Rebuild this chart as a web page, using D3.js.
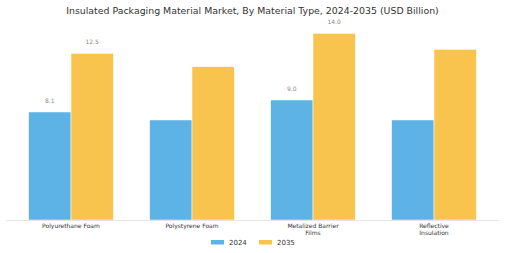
<!DOCTYPE html>
<html><head><meta charset="utf-8">
<script src="https://cdn.jsdelivr.net/npm/d3@7"></script>
<style>body{margin:0;background:#fff;}svg{display:block;}</style>
</head><body>
<svg id="c" width="505" height="253"></svg>
<script>
const categories = ["Polyurethane Foam", "Polystyrene Foam", "Metalized Barrier Films", "Reflective Insulation"];
const categoryLines = [["Polyurethane Foam"], ["Polystyrene Foam"], ["Metalized Barrier", "Films"], ["Reflective", "Insulation"]];
const series = ["2024", "2035"];
const values2024 = [8.1, 7.5, 9.0, 7.5];
const values2035 = [12.5, 11.5, 14.0, 12.8];
const showLabel2024 = [true, false, true, false];
const showLabel2035 = [true, false, true, false];
const colors = ["#5DB3E6", "#F9C44E"];
const title = "Insulated Packaging Material Market, By Material Type, 2024-2035 (USD Billion)";

const svg = d3.select("#c");
const font = "DejaVu Sans, sans-serif";
const baseY = 220, topY = 20;

const x = d3.scaleBand().domain(categories).range([10.5, 494.5]).paddingInner(0.3).paddingOuter(0.15);
const xs = d3.scaleBand().domain(series).range([0, x.bandwidth()]);
const y = d3.scaleLinear().domain([0, 15]).range([baseY, topY]);

svg.append("text").attr("x", 252.5).attr("y", 13.5).attr("text-anchor", "middle")
  .attr("font-family", font).attr("font-size", 9.4).attr("fill", "#333").text(title);

const vals = [values2024, values2035];
const shows = [showLabel2024, showLabel2035];
series.forEach((s, si) => {
  const g = svg.append("g");
  g.selectAll("rect").data(categories).join("rect")
    .attr("x", d => x(d) + xs(s))
    .attr("y", (d, i) => y(vals[si][i]))
    .attr("width", xs.bandwidth())
    .attr("height", (d, i) => baseY - y(vals[si][i]))
    .attr("fill", colors[si])
    .attr("stroke", "#fff").attr("stroke-width", 0.5);
  g.selectAll("text").data(categories.filter((d, i) => shows[si][i])).join("text")
    .attr("x", d => x(d) + xs(s) + xs.bandwidth() / 2)
    .attr("y", d => y(vals[si][categories.indexOf(d)]) - 9)
    .attr("text-anchor", "middle").attr("font-family", font).attr("font-size", 6)
    .attr("fill", "#888").text(d => vals[si][categories.indexOf(d)].toFixed(1));
});

svg.append("line").attr("x1", 6).attr("x2", 499).attr("y1", baseY + 0.5).attr("y2", baseY + 0.5)
  .attr("stroke", "#e6e6e6").attr("stroke-width", 1);

const ax = svg.append("g");
categories.forEach((c, i) => {
  const t = ax.append("text").attr("x", x(c) + x.bandwidth() / 2).attr("y", 228)
    .attr("text-anchor", "middle").attr("font-family", font).attr("font-size", 6).attr("fill", "#333");
  categoryLines[i].forEach((ln, li) => {
    t.append("tspan").attr("x", x(c) + x.bandwidth() / 2).attr("dy", li === 0 ? 0 : 7.2).text(ln);
  });
});

const legX = [211, 259];
series.forEach((s, si) => {
  svg.append("rect").attr("x", legX[si]).attr("y", 240).attr("width", 13).attr("height", 4.5).attr("fill", colors[si]);
  svg.append("text").attr("x", legX[si] + 18).attr("y", 245).attr("font-family", font).attr("font-size", 7)
    .attr("fill", "#333").text(s);
});
</script>
</body></html>
